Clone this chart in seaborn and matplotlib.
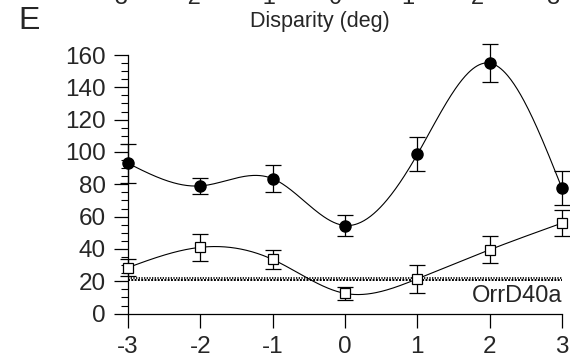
import numpy as np
import pandas as pd
import matplotlib
matplotlib.use("Agg")
import matplotlib.pyplot as plt
import seaborn as sns

# ---- data ----
disparity = [-3, -2, -1, 0, 1, 2, 3]
resp_filled = [93, 79, 83.5, 54.5, 98.5, 155, 77.5]
err_filled = [12, 5, 8.5, 6.5, 10.5, 12, 10.5]
resp_open = [28.5, 41, 33.5, 12.5, 21.5, 39.5, 56]
err_open = [5, 8.5, 6, 4, 8.5, 8.5, 8]
spont_level = [20.6, 22.2]
yticks = [0, 20, 40, 60, 80, 100, 120, 140, 160]
top_labels = ["-3", "-2", "-1", "0", "1", "2", "3"]
top_label_x = [117, 190, 265, 335, 408, 477, 553]


def natural_spline(x, y, xs):
    x = np.asarray(x, float); y = np.asarray(y, float)
    n = len(x)
    h = np.diff(x)
    A = np.zeros((n, n)); b = np.zeros(n)
    A[0, 0] = 1; A[-1, -1] = 1
    for i in range(1, n - 1):
        A[i, i - 1] = h[i - 1]
        A[i, i] = 2 * (h[i - 1] + h[i])
        A[i, i + 1] = h[i]
        b[i] = 6 * ((y[i + 1] - y[i]) / h[i] - (y[i] - y[i - 1]) / h[i - 1])
    M = np.linalg.solve(A, b)
    idx = np.clip(np.searchsorted(x, xs) - 1, 0, n - 2)
    x0 = x[idx]; x1 = x[idx + 1]; hh = x1 - x0
    t0 = x1 - xs; t1 = xs - x0
    return (M[idx] * t0**3 / (6 * hh) + M[idx + 1] * t1**3 / (6 * hh)
            + (y[idx] / hh - M[idx] * hh / 6) * t0
            + (y[idx + 1] / hh - M[idx + 1] * hh / 6) * t1)


sns.set_style("ticks")
plt.rcParams['font.family'] = ['Liberation Sans', 'DejaVu Sans']

fig = plt.figure(figsize=(5.7, 3.6), dpi=100)
ax = fig.add_axes([128 / 570, (360 - 313.6) / 360, (562 - 128) / 570, (313.6 - 55) / 360])

xs = np.linspace(-3, 3, 400)
curve = pd.DataFrame({
    "x": np.concatenate([xs, xs]),
    "y": np.concatenate([natural_spline(disparity, resp_filled, xs),
                         natural_spline(disparity, resp_open, xs)]),
    "cond": ["filled"] * len(xs) + ["open"] * len(xs),
})
sns.lineplot(data=curve, x="x", y="y", hue="cond", palette=["black", "black"],
             linewidth=0.8, legend=False, ax=ax, estimator=None, sort=False)

# spontaneous level lines
for i, lev in enumerate(spont_level):
    ax.axhline(lev, xmin=0, xmax=1, color="black", linewidth=1.4 if i == 0 else 1.2,
               linestyle=(0, (1.0, 0.7)) if i == 0 else (0, (0.8, 0.8)), zorder=2)

ax.errorbar(disparity, resp_filled, yerr=err_filled, fmt="o", color="black",
            markersize=8, capsize=6, elinewidth=0.9, capthick=0.9,
            clip_on=False, zorder=4)
ax.errorbar(disparity, resp_open, yerr=err_open, fmt="s", color="black",
            markerfacecolor="white", markeredgecolor="black", markeredgewidth=0.9,
            markersize=6.5, capsize=6, elinewidth=0.9, capthick=0.9,
            clip_on=False, zorder=4)

ax.set_xlim(-3, 3)
ax.set_ylim(0, 160)
ax.set_xticks(disparity)
ax.set_xticklabels([str(d) for d in disparity])
ax.set_yticks(yticks)
ax.set_yticks(np.arange(0, 161, 5), minor=True)
ax.tick_params(axis="both", which="major", length=10, width=0.9, labelsize=17.5,
               direction="out", pad=6, color="black")
ax.tick_params(axis="y", which="minor", length=5, width=0.8, direction="out",
               color="black")
ax.set_xlabel("")
ax.set_ylabel("")
for s in ["top", "right"]:
    ax.spines[s].set_visible(False)
for s in ["left", "bottom"]:
    ax.spines[s].set_linewidth(0.9)
    ax.spines[s].set_color("black")
ax.patch.set_alpha(0)

ax.text(3, 11, "OrrD40a", ha="right", va="center", fontsize=17)

fig.text(320 / 570, 1 - 21 / 360, "Disparity (deg)", ha="center", va="center", fontsize=15.5)
fig.text(18 / 570, 1 - 21 / 360, "E", ha="left", va="center", fontsize=23)

for lab, xp in zip(top_labels, top_label_x):
    fig.text(xp / 570, 1 - 4 / 360, lab, ha="center", va="baseline", fontsize=17)

fig.savefig("out.png", dpi=100)
